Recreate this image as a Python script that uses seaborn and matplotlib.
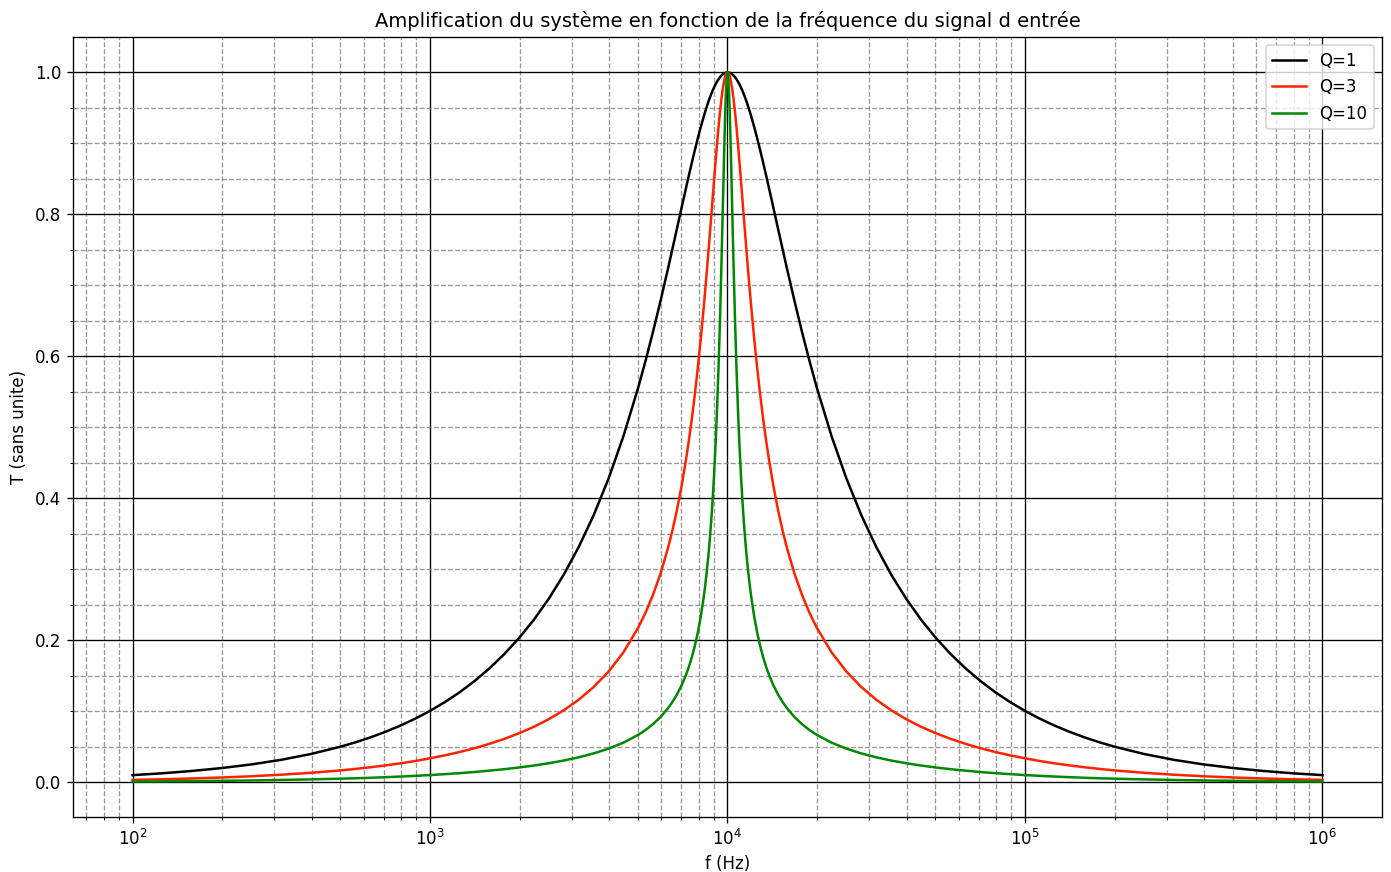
import matplotlib
matplotlib.use("Agg")
import matplotlib.pyplot as plt
from matplotlib.ticker import MultipleLocator
import pandas as pd
import seaborn as sns

# -----------------------------
# DATA
# -----------------------------
freq = [100, 125.9, 158.5, 199.5, 251.2, 316.2, 398.1, 501.2, 562.3, 631.0,
        707.9, 794.3, 891.3, 1000, 1122, 1259, 1413, 1585, 1778, 1995,
        2239, 2512, 2818, 3162, 3548, 3981, 4467, 5012, 5309, 5623,
        5957, 6310, 6531, 6761, 6998, 7244, 7413, 7586, 7762, 7943,
        8128, 8318, 8414, 8511, 8610, 8710, 8810, 8913, 9016, 9120,
        9226, 9333, 9441, 9550, 9661, 9772, 9829, 9886, 9943, 10000,
        10058, 10116, 10174, 10233, 10351, 10471, 10593, 10715, 10839, 10965,
        11092, 11220, 11350, 11482, 11614, 11749, 11885, 12023, 12303, 12589,
        12882, 13183, 13490, 13804, 14289, 14791, 15311, 15849, 16788, 17783,
        18836, 19953, 22387, 25119, 28184, 31623, 35481, 39811, 44668, 50119,
        56234, 63096, 70795, 79433, 89125, 100000, 112202, 125893, 141254, 158489,
        177828, 199526, 251189, 316228, 398107, 501187, 630957, 794328, 1000000]

t_q1 = [0.0100, 0.0126, 0.0159, 0.0200, 0.0251, 0.0316, 0.0398, 0.0502, 0.0563, 0.0632,
        0.0710, 0.0797, 0.0895, 0.1005, 0.1129, 0.1269, 0.1427, 0.1605, 0.1806, 0.2035,
        0.2294, 0.2590, 0.2927, 0.3315, 0.3761, 0.4276, 0.4873, 0.5562, 0.5945, 0.6352,
        0.6784, 0.7236, 0.7515, 0.7797, 0.8080, 0.8361, 0.8546, 0.8726, 0.8901, 0.9069,
        0.9228, 0.9377, 0.9447, 0.9514, 0.9577, 0.9637, 0.9692, 0.9744, 0.9791, 0.9834,
        0.9872, 0.9906, 0.9934, 0.9958, 0.9976, 0.9989, 0.9994, 0.9997, 0.9999, 1.0000,
        0.9999, 0.9997, 0.9994, 0.9989, 0.9976, 0.9958, 0.9934, 0.9906, 0.9872, 0.9834,
        0.9791, 0.9744, 0.9692, 0.9637, 0.9577, 0.9514, 0.9447, 0.9377, 0.9228, 0.9069,
        0.8901, 0.8726, 0.8546, 0.8361, 0.8080, 0.7797, 0.7515, 0.7236, 0.6784, 0.6352,
        0.5945, 0.5562, 0.4873, 0.4276, 0.3761, 0.3315, 0.2927, 0.2590, 0.2294, 0.2035,
        0.1806, 0.1605, 0.1427, 0.1269, 0.1129, 0.1005, 0.0895, 0.0797, 0.0710, 0.0632,
        0.0563, 0.0502, 0.0398, 0.0316, 0.0251, 0.0200, 0.0159, 0.0126, 0.0100]

t_q3 = [0.0033, 0.0042, 0.0053, 0.0067, 0.0084, 0.0106, 0.0133, 0.0167, 0.0188, 0.0211,
        0.0237, 0.0266, 0.0299, 0.0337, 0.0379, 0.0426, 0.0480, 0.0541, 0.0611, 0.0691,
        0.0783, 0.0890, 0.1015, 0.1163, 0.1341, 0.1558, 0.1829, 0.2178, 0.2393, 0.2644,
        0.2941, 0.3299, 0.3549, 0.3834, 0.4158, 0.4530, 0.4809, 0.5116, 0.5456, 0.5829,
        0.6239, 0.6688, 0.6927, 0.7173, 0.7428, 0.7689, 0.7954, 0.8223, 0.8488, 0.8749,
        0.9001, 0.9238, 0.9452, 0.9639, 0.9792, 0.9906, 0.9947, 0.9976, 0.9994, 1.0000,
        0.9994, 0.9976, 0.9947, 0.9906, 0.9792, 0.9639, 0.9452, 0.9238, 0.9001, 0.8749,
        0.8488, 0.8223, 0.7954, 0.7689, 0.7428, 0.7173, 0.6927, 0.6688, 0.6239, 0.5829,
        0.5456, 0.5116, 0.4809, 0.4530, 0.4158, 0.3834, 0.3549, 0.3299, 0.2941, 0.2644,
        0.2393, 0.2178, 0.1829, 0.1558, 0.1341, 0.1163, 0.1015, 0.0890, 0.0783, 0.0691,
        0.0611, 0.0541, 0.0480, 0.0426, 0.0379, 0.0337, 0.0299, 0.0266, 0.0237, 0.0211,
        0.0188, 0.0167, 0.0133, 0.0106, 0.0084, 0.0067, 0.0053, 0.0042, 0.0033]

t_q10 = [0.0010, 0.0013, 0.0016, 0.0020, 0.0025, 0.0032, 0.0040, 0.0050, 0.0056, 0.0063,
         0.0071, 0.0080, 0.0090, 0.0101, 0.0114, 0.0128, 0.0144, 0.0163, 0.0184, 0.0208,
         0.0236, 0.0268, 0.0306, 0.0351, 0.0406, 0.0473, 0.0557, 0.0668, 0.0737, 0.0820,
         0.0919, 0.1043, 0.1132, 0.1236, 0.1359, 0.1507, 0.1624, 0.1759, 0.1917, 0.2104,
         0.2329, 0.2606, 0.2768, 0.2951, 0.3158, 0.3393, 0.3663, 0.3977, 0.4340, 0.4765,
         0.5269, 0.5862, 0.6555, 0.7354, 0.8227, 0.9083, 0.9452, 0.9745, 0.9934, 1.0000,
         0.9934, 0.9745, 0.9452, 0.9083, 0.8227, 0.7354, 0.6555, 0.5862, 0.5269, 0.4765,
         0.4340, 0.3977, 0.3663, 0.3393, 0.3158, 0.2951, 0.2768, 0.2606, 0.2329, 0.2104,
         0.1917, 0.1759, 0.1624, 0.1507, 0.1359, 0.1236, 0.1132, 0.1043, 0.0919, 0.0820,
         0.0737, 0.0668, 0.0557, 0.0473, 0.0406, 0.0351, 0.0306, 0.0268, 0.0236, 0.0208,
         0.0184, 0.0163, 0.0144, 0.0128, 0.0114, 0.0101, 0.0090, 0.0080, 0.0071, 0.0063,
         0.0056, 0.0050, 0.0040, 0.0032, 0.0025, 0.0020, 0.0016, 0.0013, 0.0010]

labels = ["Q=1", "Q=3", "Q=10"]
colors = ["black", "#ff2200", "#008800"]

# -----------------------------
# PLOT
# -----------------------------
df = pd.concat([
    pd.DataFrame({"f": freq, "T": t, "Q": lab})
    for t, lab in zip([t_q1, t_q3, t_q10], labels)
])

fig, ax = plt.subplots(figsize=(1391 / 120, 872 / 120), dpi=120)
fig.subplots_adjust(left=0.0525, right=0.9935, top=0.9576, bottom=0.0631)

sns.lineplot(data=df, x="f", y="T", hue="Q", hue_order=labels,
             palette=dict(zip(labels, colors)), ax=ax, linewidth=1.5)

ax.set_xscale("log")
ax.yaxis.set_minor_locator(MultipleLocator(0.05))
ax.grid(which="major", color="black", linestyle="-", linewidth=0.8)
ax.grid(which="minor", color="gray", linestyle="--", linewidth=0.8, alpha=0.8)

ax.set_title("Amplification du système en fonction de la fréquence du signal d entrée",
             fontsize=11.7)
ax.set_xlabel("f (Hz)")
ax.set_ylabel("T (sans unite)")
ax.legend(loc="upper right")

fig.savefig("out.png", dpi=120)
